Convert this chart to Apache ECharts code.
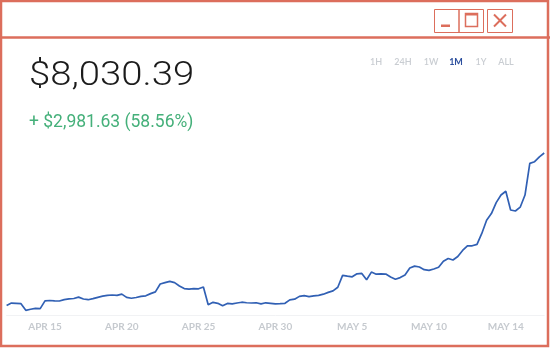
<!DOCTYPE html>
<html>
<head>
<meta charset="utf-8">
<script src="https://cdn.jsdelivr.net/npm/echarts@6/dist/echarts.min.js"></script>
<style>
html,body{margin:0;padding:0;background:#fff;}
#main{width:550px;height:348px;}
</style>
</head>
<body>
<div id="main"></div>
<script>
// ---- data ----
var priceText = '$8,030.39';
var changeText = '+ $2,981.63 (58.56%)';
var rangeLabels = ['1H', '24H', '1W', '1M', '1Y', 'ALL'];
var activeRange = '1M';
var tickIndices = [8, 24, 40, 56, 72, 88, 104];
var tickLabels = ['APR 15', 'APR 20', 'APR 25', 'APR 30', 'MAY 5', 'MAY 10', 'MAY 14'];
var prices = [
  5048.76, 5096, 5090, 5084, 4955, 4976, 4992, 4988, 5139, 5147,
  5141, 5137, 5164, 5178, 5186, 5213, 5176, 5162, 5182, 5209,
  5231, 5248, 5254, 5248, 5272, 5207, 5191, 5205, 5227, 5238,
  5281, 5315, 5469, 5495, 5520, 5496, 5430, 5379, 5369, 5377,
  5375, 5410, 5064, 5111, 5092, 5043, 5090, 5080, 5098, 5113,
  5103, 5098, 5103, 5082, 5102, 5092, 5080, 5084, 5092, 5160,
  5172, 5227, 5242, 5223, 5236, 5246, 5270, 5305, 5334, 5405,
  5639, 5622, 5610, 5669, 5676, 5551, 5702, 5661, 5667, 5663,
  5606, 5563, 5594, 5645, 5782, 5819, 5802, 5749, 5735, 5762,
  5796, 5913, 5968, 5938, 6007, 6126, 6214, 6216, 6245, 6458,
  6717, 6846, 7061, 7209, 7282, 6916, 6896, 6971, 7209, 7827,
  7860, 7956, 8030.39
];
// category slots (one per sample)
var categories = prices.map(function (_, i) { return 'p' + i; });

var RED = '#dc6e5c';
var chart = echarts.init(document.getElementById('main'), null, {renderer: 'canvas'});

var rangeX = [376, 403, 431, 456, 481, 506];
var rangeGraphics = rangeLabels.map(function (t, k) {
  return {
    type: 'text', x: rangeX[k], y: 62,
    style: {
      text: t, align: 'center', verticalAlign: 'middle',
      font: (t === activeRange ? '700 ' : '600 ') + '9px Lato',
      fill: t === activeRange ? '#2c4f9e' : '#c9cdd2'
    }
  };
});

var frame = [
  {type: 'rect', shape: {x: 1, y: 1, width: 547, height: 345}, style: {fill: 'none', stroke: RED, lineWidth: 2.5}},
  {type: 'line', shape: {x1: 0, y1: 37.5, x2: 550, y2: 37.5}, style: {stroke: RED, lineWidth: 2.5}},
  // minimize / maximize / close boxes
  {type: 'rect', shape: {x: 434.5, y: 9.5, width: 24.5, height: 23}, style: {fill: 'none', stroke: RED, lineWidth: 1}},
  {type: 'rect', shape: {x: 459, y: 9.5, width: 24.5, height: 23}, style: {fill: 'none', stroke: RED, lineWidth: 1}},
  {type: 'rect', shape: {x: 487.5, y: 9.5, width: 25, height: 23}, style: {fill: 'none', stroke: RED, lineWidth: 1}},
  {type: 'rect', shape: {x: 441, y: 24.5, width: 9, height: 2.5}, style: {fill: RED}},
  {type: 'rect', shape: {x: 465.5, y: 13.5, width: 12, height: 13}, style: {fill: 'none', stroke: RED, lineWidth: 1.5}},
  {type: 'rect', shape: {x: 465.5, y: 13, width: 12, height: 2.5}, style: {fill: RED}},
  {type: 'line', shape: {x1: 494, y1: 14.5, x2: 506, y2: 26.5}, style: {stroke: RED, lineWidth: 2}},
  {type: 'line', shape: {x1: 506, y1: 14.5, x2: 494, y2: 26.5}, style: {stroke: RED, lineWidth: 2}},
  // header texts
  {type: 'text', x: 29, y: 77, scaleX: 1.16, style: {text: priceText, verticalAlign: 'middle', font: '300 33px Roboto', fill: '#1b1b1b'}},
  {type: 'text', x: 29, y: 123, style: {text: changeText, verticalAlign: 'middle', font: '400 17.5px Roboto', fill: '#45b07a'}}
].concat(rangeGraphics);

chart.setOption({
  animation: false,
  backgroundColor: '#ffffff',
  grid: {left: 6.6, right: 5.8, top: 134.1, bottom: 32.33, containLabel: false},
  xAxis: {
    type: 'category',
    data: categories,
    boundaryGap: false,
    axisLine: {show: true, lineStyle: {color: '#f1f2f4', width: 1}},
    axisTick: {show: false},
    axisLabel: {
      interval: function (idx) { return tickIndices.indexOf(idx) >= 0; },
      formatter: function (v, idx) { var k = tickIndices.indexOf(idx); return k >= 0 ? tickLabels[k] : ''; },
      margin: 6,
      color: '#c6cacf',
      fontFamily: 'Lato',
      fontWeight: 700,
      fontSize: 10
    },
    splitLine: {show: false}
  },
  yAxis: {
    type: 'value', min: 4850, max: 8400, show: false,
    splitLine: {show: false}
  },
  series: [{
    type: 'line',
    data: prices,
    showSymbol: false,
    symbol: 'none',
    lineStyle: {color: '#3160b4', width: 1.7},
    z: 5
  }],
  graphic: frame
});
</script>
</body>
</html>
